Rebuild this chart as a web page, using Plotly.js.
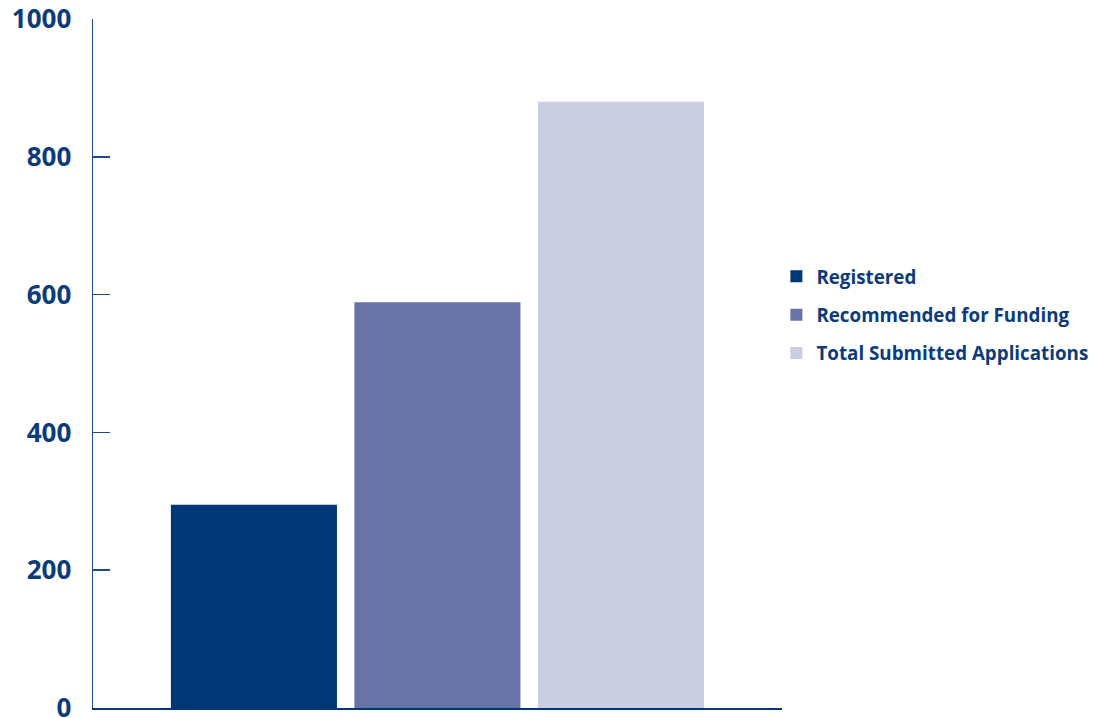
<!DOCTYPE html>
<html>
<head>
<meta charset="utf-8">
<script src="https://cdn.plot.ly/plotly-3.0.1.min.js"></script>
<style>html,body{margin:0;padding:0;background:#fff;}#chart{width:1095px;height:718px;}</style>
</head>
<body>
<div id="chart"></div>
<script>
const seriesNames = ["Registered", "Recommended for Funding", "Total Submitted Applications"];
const seriesValues = [295, 589, 880];
const seriesColors = ["#003776", "#6874a5", "#cbcee0"];
const yTicks = [0, 200, 400, 600, 800, 1000];

const textColor = "#0b3b7b";
const axisColor = "#1d4a8c";

const traces = seriesNames.map((name, i) => ({
  type: "bar",
  name: name,
  legendgroup: "g" + i,
  x: [i],
  y: [seriesValues[i]],
  width: 0.905,
  marker: {color: seriesColors[i], line: {width: 0}},
  hoverinfo: "name+y"
}));

const layout = {
  width: 1095,
  height: 718,
  margin: {l: 93, r: 313, t: 19, b: 10},
  paper_bgcolor: "#fff",
  plot_bgcolor: "#fff",
  barmode: "overlay",
  showlegend: true,
  font: {family: "Open Sans, sans-serif", color: textColor},
  xaxis: {
    range: [-0.877, 2.878],
    showticklabels: false,
    ticks: "",
    showgrid: false,
    zeroline: false,
    showline: true,
    linecolor: "#003776",
    linewidth: 2,
    fixedrange: true
  },
  yaxis: {
    range: [0, 1000],
    tickvals: yTicks,
    ticktext: yTicks.map(String),
    ticks: "inside",
    ticklen: 17,
    tickwidth: 1.5,
    tickcolor: axisColor,
    showgrid: false,
    zeroline: false,
    showline: true,
    linecolor: axisColor,
    linewidth: 1.5,
    ticklabelstandoff: 15,
    ticklabeloverflow: "allow",
    tickfont: {family: "Open Sans, sans-serif", size: 26, color: textColor, weight: 700},
    fixedrange: true
  },
  legend: {
    xref: "container", yref: "container",
    x: 0.7145, xanchor: "left",
    y: 0.5613, yanchor: "middle",
    indentation: -6,
    traceorder: "grouped",
    font: {family: "Open Sans, sans-serif", size: 18.8, color: textColor, weight: 700},
    tracegroupgap: 11,
    itemwidth: 30,
    bgcolor: "rgba(0,0,0,0)"
  }
};

Plotly.newPlot("chart", traces, layout, {displayModeBar: false, staticPlot: true});
</script>
</body>
</html>
